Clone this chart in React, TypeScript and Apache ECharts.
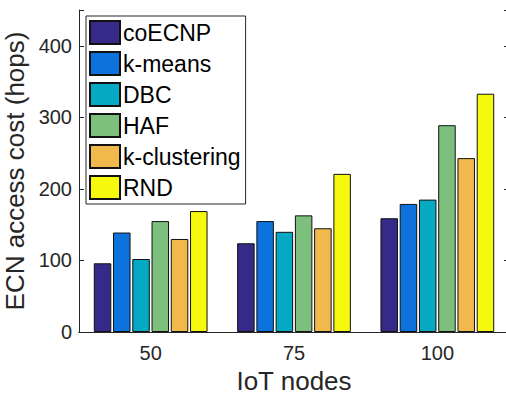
import React, { useEffect, useRef } from "react";
import * as echarts from "echarts";

const categories = ["50", "75", "100"];
const seriesNames = ["coECNP", "k-means", "DBC", "HAF", "k-clustering", "RND"];
const coECNP = [96, 124, 159];
const kMeans = [139, 155, 179];
const dbc = [102, 140, 185];
const haf = [155, 163, 289];
const kClustering = [130, 145, 243];
const rnd = [169, 221, 333];
const colors = ["#352a87", "#0e72dc", "#05a9c3", "#7dc07e", "#f1b84b", "#f6f90e"];
const yTicks = [0, 100, 200, 300, 400];

const FONT = "'Liberation Sans', Arial, sans-serif";
const INK = "#262626";

export default function App() {
  const ref = useRef<HTMLDivElement>(null);
  useEffect(() => {
    if (!ref.current) return;
    const chart = echarts.init(ref.current, null, { renderer: "svg" });
    const data = [coECNP, kMeans, dbc, haf, kClustering, rnd];
    chart.setOption({
      animation: false,
      textStyle: { fontFamily: FONT },
      grid: { left: 79, right: -3, top: 10, bottom: 64, containLabel: false, outerBoundsMode: "none" },
      legend: {
        left: 86,
        top: 16,
        orient: "vertical",
        data: seriesNames,
        icon: "rect",
        itemWidth: 30,
        itemHeight: 23,
        itemGap: 6,
        padding: [4, 5, 4, 3],
        backgroundColor: "#fff",
        borderColor: INK,
        borderWidth: 1,
        borderRadius: 0,
        textStyle: { fontFamily: FONT, fontSize: 23, lineHeight: 23, color: "#000", padding: [0, 0, 0, -2] },
      },
      xAxis: [
        {
          type: "category",
          data: categories,
          name: "IoT nodes",
          nameLocation: "middle",
          nameGap: 36,
          nameTextStyle: { fontSize: 26, lineHeight: 26, color: INK, fontFamily: FONT },
          axisLine: { lineStyle: { color: INK, width: 1 } },
          axisTick: { inside: true, alignWithLabel: true, length: 5, lineStyle: { color: INK } },
          axisLabel: { fontSize: 20, color: INK, margin: 11, fontFamily: FONT },
        },
        {
          type: "category",
          data: categories,
          position: "top",
          axisLine: { lineStyle: { color: INK, width: 1 } },
          axisTick: { inside: true, alignWithLabel: true, length: 5, lineStyle: { color: INK } },
          axisLabel: { show: false },
        },
      ],
      yAxis: [
        {
          type: "value",
          min: 0,
          max: 450,
          interval: 100,
          name: "ECN access cost (hops)",
          nameLocation: "middle",
          nameGap: 45,
          nameTextStyle: { fontSize: 26, color: INK, fontFamily: FONT },
          axisLine: { show: true, lineStyle: { color: INK, width: 1 } },
          axisTick: { show: true, inside: true, length: 5, lineStyle: { color: INK } },
          axisLabel: {
            fontSize: 20,
            color: INK,
            margin: 7,
            fontFamily: FONT,
            formatter: (v: number) => (yTicks.includes(v) ? String(v) : ""),
          },
          splitLine: { show: false },
        },
        {
          type: "value",
          min: 0,
          max: 450,
          interval: 100,
          position: "right",
          axisLine: { show: true, lineStyle: { color: INK, width: 1 } },
          axisTick: { show: true, inside: true, length: 5, lineStyle: { color: INK } },
          axisLabel: { show: false },
          splitLine: { show: false },
        },
      ],
      series: seriesNames.map((name, i) => ({
        name,
        type: "bar",
        data: data[i],
        barWidth: 17.5,
        barGap: "10%",
        itemStyle: { color: colors[i], borderColor: "#111", borderWidth: 1 },
      })),
    });
    return () => chart.dispose();
  }, []);
  return <div ref={ref} style={{ width: 506, height: 396, position: "absolute", left: 0, top: 0 }} />;
}
